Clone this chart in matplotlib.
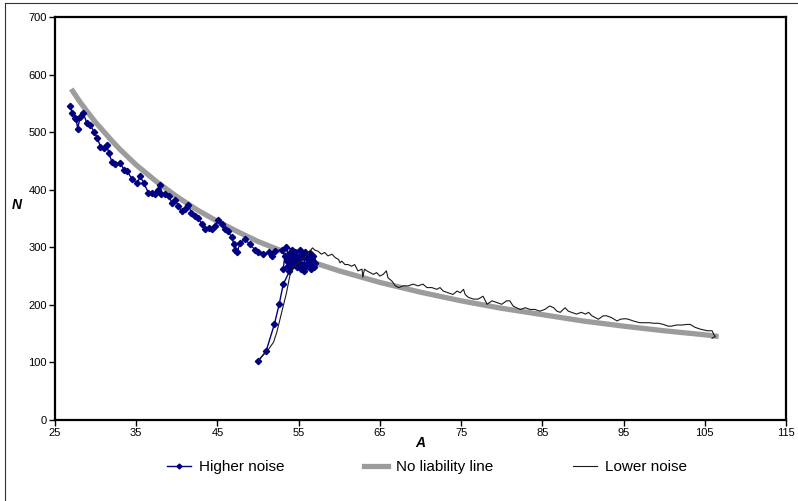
import matplotlib
matplotlib.use("Agg")
import matplotlib.pyplot as plt
from matplotlib.lines import Line2D

plt.rcParams['font.family'] = ['Liberation Sans', 'DejaVu Sans']

# No liability line
line_A = [27, 28, 29, 30, 31, 32, 33, 35, 37.5, 40, 42.5, 45, 47.5, 50, 55, 60,
          65, 70, 75, 80, 85, 90, 95, 100, 105, 106.7]
line_N = [575, 554, 535, 517, 501, 485, 470, 443, 414, 388, 365, 345, 327, 310, 282, 259,
          239, 222, 207, 194, 183, 172, 163, 155, 148, 145]

# Higher noise
hi_A = [26.9, 27.1, 27.5, 27.6, 27.8, 28.1, 28.5, 28.9, 29.3, 29.8,
        30.2, 30.6, 31.0, 31.4, 31.6, 32.0, 32.4, 33.0, 33.5, 33.9,
        34.5, 35.1, 35.5, 35.9, 36.5, 36.9, 37.3, 37.7, 37.9, 38.1,
        38.5, 39.0, 39.4, 39.8, 40.2, 40.6, 41.0, 41.4, 41.8, 42.2,
        42.6, 43.1, 43.5, 43.9, 44.3, 44.7, 45.1, 45.5, 45.9, 46.3,
        46.8, 47.0, 47.2, 47.4, 47.8, 48.4, 49.0, 49.6, 50.0, 50.6,
        51.3, 51.7, 52.1, 52.9, 53.3, 53.1, 53.7, 54.1, 54.5, 55.0,
        55.4, 55.8, 56.2, 55.6, 56.6, 57.0, 56.8, 53.5, 54.0, 54.3,
        54.8, 55.2, 55.9, 56.4, 53.8, 54.6, 55.5, 56.9, 54.2, 53.6,
        55.0, 56.1, 56.5, 55.3, 54.4, 53.9, 56.7, 54.1, 53.1, 52.6,
        52.0, 51.0, 50.0]
hi_N = [545, 534, 525, 522, 506, 527, 533, 516, 513, 501,
        490, 475, 473, 478, 464, 449, 444, 447, 435, 432,
        418, 412, 423, 412, 395, 395, 392, 400, 409, 392,
        392, 389, 377, 383, 371, 363, 366, 374, 360, 354,
        351, 340, 331, 334, 331, 337, 348, 340, 331, 328,
        317, 305, 296, 291, 308, 314, 305, 296, 291, 288,
        291, 285, 293, 296, 285, 262, 267, 279, 291, 274,
        285, 291, 273, 259, 279, 273, 285, 300, 270, 288,
        265, 295, 268, 290, 258, 280, 270, 266, 296, 276,
        283, 286, 262, 262, 275, 290, 276, 265, 236, 201,
        166, 120, 102]

# Lower noise
lo_A = [50.2, 51.3, 51.9, 52.3, 52.7, 53.1, 53.5, 53.9, 54.3, 55.2,
        56.1, 56.7, 57.0, 57.4, 57.8, 58.2, 58.6, 59.1, 59.5, 59.9,
        60.1, 60.3, 60.7, 61.1, 61.5, 61.9, 62.3, 62.8, 62.9, 63.1,
        63.4, 63.8, 64.2, 64.6, 65.0, 65.4, 65.8, 66.0, 66.5, 66.9,
        67.3, 67.9, 68.5, 69.1, 69.7, 70.3, 70.8, 71.4, 72.0, 72.4,
        72.8, 73.4, 74.0, 74.5, 74.9, 75.3, 75.5, 75.9, 76.5, 77.1,
        77.7, 78.2, 78.8, 79.4, 80.0, 80.6, 81.0, 81.4, 81.8, 82.3,
        82.9, 83.5, 84.1, 84.7, 85.3, 85.9, 86.4, 86.8, 87.2, 87.8,
        88.2, 88.6, 89.2, 89.8, 90.3, 90.7, 91.1, 91.5, 91.9, 92.5,
        92.9, 93.5, 94.2, 94.6, 95.2, 95.6, 96.2, 97.0, 97.6, 98.2,
        98.7, 99.3, 99.9, 100.5, 100.9, 101.5, 102.2, 102.8, 103.2, 103.8,
        104.4, 105.0, 105.4, 105.9, 106.1, 106.3, 105.9]
lo_N = [106, 123, 135, 152, 175, 198, 221, 250, 265, 275,
        288, 299, 295, 293, 288, 291, 285, 288, 282, 279,
        273, 276, 270, 270, 267, 270, 259, 262, 248, 262,
        259, 256, 253, 256, 250, 253, 259, 247, 241, 233,
        230, 233, 233, 236, 233, 236, 230, 230, 227, 230,
        224, 221, 218, 224, 221, 227, 218, 213, 210, 210,
        215, 201, 207, 204, 201, 207, 207, 198, 195, 192,
        195, 192, 192, 189, 192, 198, 195, 189, 187, 195,
        189, 187, 184, 187, 184, 187, 181, 178, 175, 181,
        181, 178, 172, 175, 176, 175, 172, 169, 169, 169,
        168, 168, 166, 163, 163, 165, 165, 166, 166, 161,
        158, 156, 155, 155, 149, 145, 142]

x_ticks = list(range(25, 116, 10))
y_ticks = list(range(0, 701, 100))

fig = plt.figure(figsize=(7.98, 5.01), dpi=100)
ax = fig.add_axes([55/798, 1 - 420/501, 731/798, 403/501])

ax.plot(line_A, line_N, color='#9c9c9c', lw=3.8, solid_capstyle='butt', zorder=2,
        label='No liability line')
ax.plot(hi_A, hi_N, color='#000080', lw=1.0, marker='D', ms=3.2, zorder=3,
        label='Higher noise')
ax.plot(lo_A, lo_N, color='#1a1a1a', lw=0.8, zorder=4, label='Lower noise')

ax.set_xlim(25, 115)
ax.set_ylim(0, 700)
ax.set_xticks(x_ticks)
ax.set_yticks(y_ticks)
ax.tick_params(direction='out', length=4, width=1, labelsize=8, pad=2)
for s in ax.spines.values():
    s.set_linewidth(1.6)
    s.set_color('black')

ax.set_xlabel('A', fontsize=10, fontweight='bold', fontstyle='italic')
ax.xaxis.set_label_coords(0.5, -0.04)
ax.set_ylabel('N', fontsize=10, fontweight='bold', fontstyle='italic', rotation=0,
              va='center', ha='center')
ax.yaxis.set_label_coords(-0.052, 0.533)

handles = [Line2D([], [], color='#000080', lw=1.0, marker='D', ms=2.5),
           Line2D([], [], color='#9c9c9c', lw=3.8),
           Line2D([], [], color='#1a1a1a', lw=0.8)]
labels = ['Higher noise', 'No liability line', 'Lower noise']
fig.legend(handles, labels, loc='center', bbox_to_anchor=(0.535, 0.068), ncol=3,
           frameon=False, fontsize=11, columnspacing=5.2, handlelength=1.6,
           handletextpad=0.5)

# outer chart border (left and top visible)
fig.add_artist(Line2D([5/798, 5/798], [0, 1 - 3/501], transform=fig.transFigure,
                      color='#333333', lw=0.8))
fig.add_artist(Line2D([5/798, 1], [1 - 3/501, 1 - 3/501], transform=fig.transFigure,
                      color='#333333', lw=0.8))

fig.savefig('out.png', dpi=100)
